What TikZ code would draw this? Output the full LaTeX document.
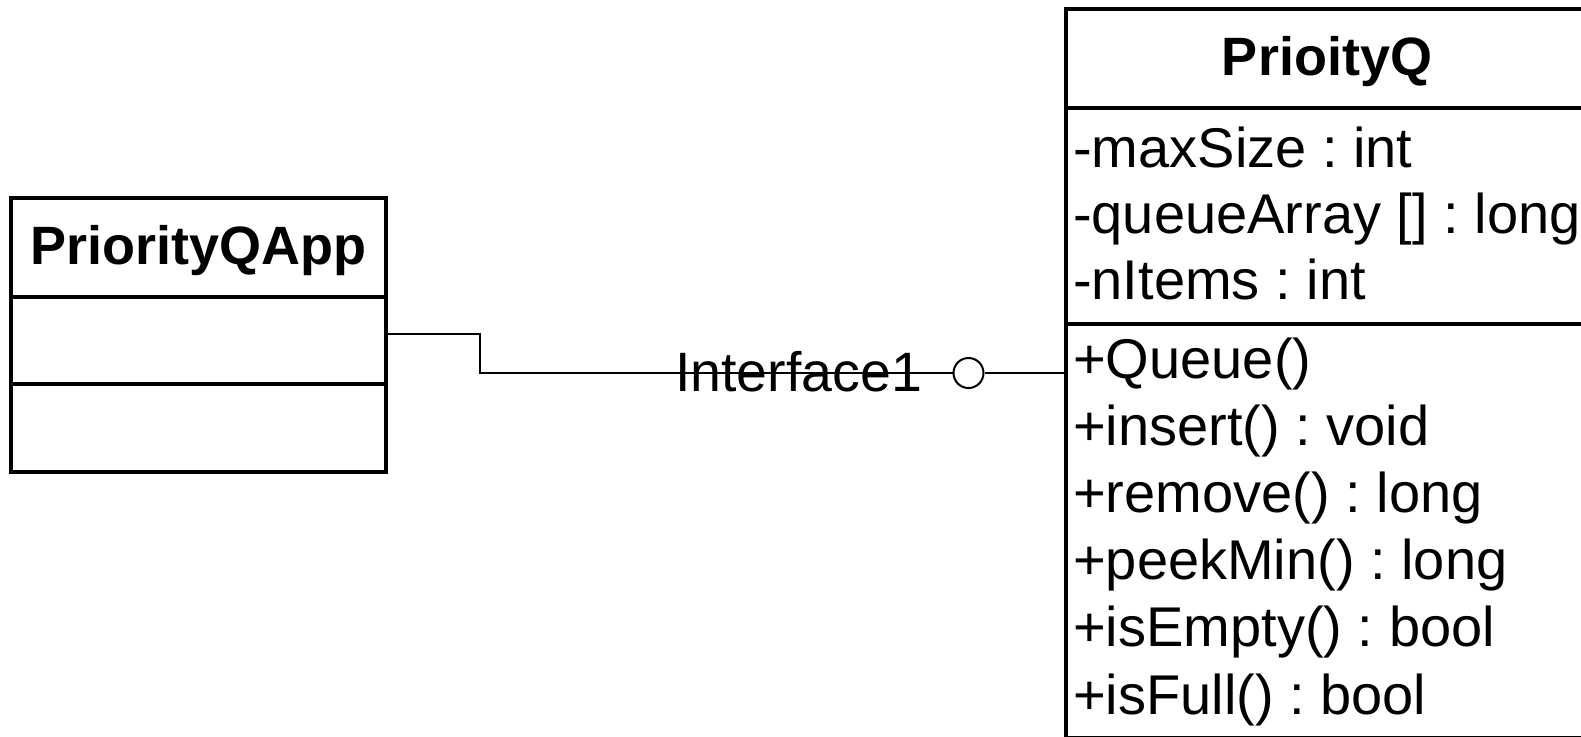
\documentclass[tikz,border=0pt]{standalone}
\usepackage{fontspec}
\setmainfont{Liberation Sans}
\usetikzlibrary{positioning}
\frenchspacing
\newcommand{\umlsize}{\fontsize{54pt}{64pt}\selectfont}
\newcommand{\membersize}{\fontsize{56pt}{66pt}\selectfont}
\tikzset{
        % Class compartments
        compartment/.style={rectangle, draw=black, line width=4pt, outer sep=0pt, inner sep=0pt},
        % Class name compartment
        classname/.style={compartment, font=\umlsize\bfseries, text height=39pt, text depth=6pt},
        % Attribute and operation lines
        member/.style={anchor=base west, inner sep=0pt, font=\membersize},
        % Connectors
        link/.style={draw=black, line width=2pt},
        % Provided interface
        lollipop/.style={circle, draw=black, line width=2pt, fill=white, minimum size=30pt, inner sep=0pt}
}

\begin{document}
\begin{tikzpicture}[x=1pt, y=-1pt]
            \useasboundingbox (0,0) rectangle (1581,736);

            % client class
            \node[classname, minimum width=375pt, minimum height=99pt] (appname) at (198.5,247.5) {PriorityQApp};
            \node[compartment, minimum width=375pt, minimum height=87pt, below=0pt of appname] (appattr) {};
            \node[compartment, minimum width=375pt, minimum height=88pt, below=0pt of appattr] (appops) {};

            % queue class
            \node[classname, minimum width=522pt, minimum height=99pt] (qname) at (1327,58.5) {PrioityQ};
            \node[compartment, minimum width=522pt, minimum height=216pt, below=0pt of qname] (qattrs) {};
            \node[compartment, minimum width=522pt, minimum height=414pt, below=0pt of qattrs] (qops) {};
            \foreach \member [count=\i] in {{-maxSize : int}, {-queueArray [] : long}, {-nItems : int}}
                \node[member] (attr\i) at (1073, {167+66*(\i-1)}) {\member};
            \foreach \member [count=\i] in {{+Queue()}, {+insert() : void}, {+remove() : long},
                                             {+peekMin() : long}, {+isEmpty() : bool}, {+isFull() : bool}}
                \node[member] (op\i) at (1073, {378+67.2*(\i-1)}) {\member};

            % interface between the two
            \node[lollipop] (ball) at (968.5,373) {};
            \node[font=\fontsize{55.5pt}{66pt}\selectfont, anchor=base, inner sep=0pt] (ifacename) at (798.5,391) {Interface1};
            \draw[link] ([yshift=6.5pt]appattr.east) -| (480,373) -- (ball.west);
            \draw[link] (ball.east) -- (qops.west |- ball);
\end{tikzpicture}
\end{document}
